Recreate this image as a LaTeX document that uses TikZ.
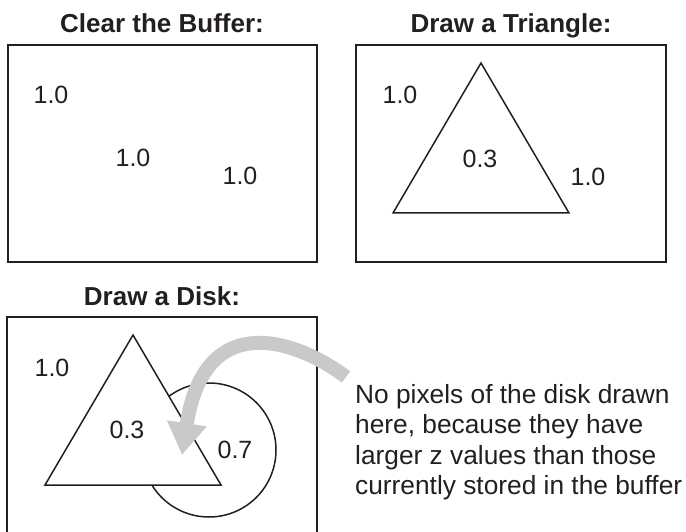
\documentclass[tikz,border=0pt]{standalone}
\usepackage{fontspec}
\setmainfont{Liberation Sans}
\usetikzlibrary{arrows.meta}
\definecolor{inkGA}{HTML}{231F20}
\definecolor{flechaGA}{HTML}{C8C9CB}

\begin{document}
\begin{tikzpicture}[x=1pt,y=-1pt,>=Stealth,
    frame/.style={draw=inkGA,line width=1.7pt},
    outline/.style={draw=inkGA,line width=1.5pt,line join=miter},
    zval/.style={inner sep=0pt,text=inkGA,font=\fontsize{25}{30}\selectfont},
    heading/.style={inner sep=0pt,anchor=base,text=inkGA,font=\fontsize{26}{31}\selectfont\bfseries},
    note/.style={inner sep=0pt,anchor=north west,align=left,text=inkGA,font=\fontsize{26.3}{30.5}\selectfont}]
  \useasboundingbox (0,0) rectangle (686,532);
  % clear the buffer
  \node[heading] (tclear) at (162,33) {Clear the Buffer:};
  \draw[frame] (8,45) rectangle (317,262);
  \node[zval] (c1) at (51,95) {1.0};
  \node[zval] (c2) at (133,158) {1.0};
  \node[zval] (c3) at (240,176) {1.0};
  % draw a triangle
  \node[heading] (ttri) at (511,33) {Draw a Triangle:};
  \draw[frame] (356,45) rectangle (666,262);
  \draw[outline] (481,63) -- (393,213) -- (569,213) -- cycle;
  \node[zval] (t1) at (400,95) {1.0};
  \node[zval] (t2) at (480,159) {0.3};
  \node[zval] (t3) at (588,177) {1.0};
  % draw a disk
  \node[heading] (tdisk) at (162,305) {Draw a Disk:};
  \draw[frame] (7,534) -- (7,317) -- (317,317) -- (317,534);
  \draw[outline] (209,450) circle (67);
  \filldraw[outline,fill=white] (133,335) -- (45,485) -- (221,485) -- cycle;
  \node[zval] (d1) at (52,368) {1.0};
  \node[zval] (d2) at (127,430) {0.3};
  \node[zval] (d3) at (235,450) {0.7};
  \coordinate (tail) at (346,377);
  \coordinate (tip) at (182,455);
  \draw[flechaGA,line width=14pt,-{Triangle[length=32pt,width=38pt]}]
    (tail) .. controls (300,342) and (205,305) .. (tip);
  \node[note] (why) at (355,384) {No pixels of the disk drawn\\here, because they have\\larger z values than those\\currently stored in the buffer};
\end{tikzpicture}
\end{document}
